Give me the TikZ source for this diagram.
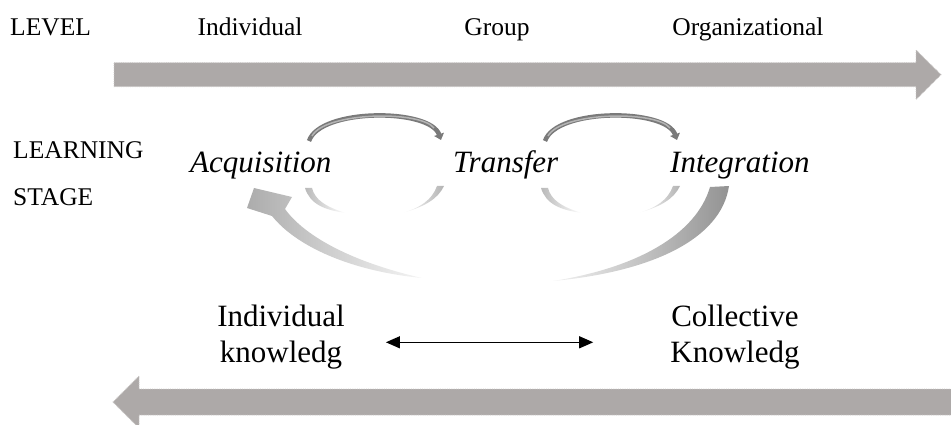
\documentclass[tikz,border=0pt]{standalone}
\usepackage{fontspec}
\setmainfont{Liberation Serif}
\usetikzlibrary{arrows.meta}
\definecolor{bandgray}{HTML}{ADA9A8}
\definecolor{banddot}{HTML}{C9C6C5}
\definecolor{arcdark}{HTML}{7A7A7A}
\definecolor{arclight}{HTML}{B4B4B4}
\begin{document}
\begin{tikzpicture}[x=1pt,y=-1pt,
  band/.style={fill=bandgray, draw=banddot, densely dotted, line width=0.8pt},
  lbl/.style={inner sep=0pt, font=\fontsize{25.5}{30}\selectfont},
  stagelbl/.style={inner sep=0pt, font=\fontsize{31}{36}\selectfont\itshape},
  know/.style={inner sep=0pt, align=center, font=\fontsize{31}{36}\selectfont},
  dblarrow/.style={{Triangle[length=14pt,width=12pt]}-{Triangle[length=14pt,width=12pt]}, line width=1.2pt},
  toparc/.style={draw=arcdark, line width=4.5pt, -{Triangle[length=6pt,width=10pt]}},
  toparcin/.style={draw=arclight, line width=1.5pt},
]
\useasboundingbox (0,0) rectangle (951,425);

% level band (left to right) and knowledge band (right to left)
\path[band] (114,62.7) -- (916,62.7) -- (916,50) -- (941,74.7) -- (916,99.5)
  -- (916,86.7) -- (114,86.7) -- cycle;
\path[band] (952,389) -- (139,389) -- (139,376) -- (113,402) -- (139,428)
  -- (139,415) -- (952,415) -- cycle;

% level labels
\node[lbl, anchor=base west] (level) at (10,36) {LEVEL};
\node[lbl, anchor=base] (lvind) at (250,36) {Individual};
\node[lbl, anchor=base] (lvgrp) at (497,36) {Group};
\node[lbl, anchor=base] (lvorg) at (748,36) {Organizational};

\node[lbl, anchor=base west] (learning) at (13,159) {LEARNING};
\node[lbl, anchor=base west] (stage) at (13,206) {STAGE};

% learning stages
\node[stagelbl, anchor=base west] (acq) at (190,172) {Acquisition};
\node[stagelbl, anchor=base west] (trans) at (453,172) {Transfer};
\node[stagelbl, anchor=base west] (integ) at (670,172) {Integration};

% upper arcs between the stages
\draw[toparc] (309,141) .. controls (320,108) and (430,108) .. (441,140);
\draw[toparcin] (312,136) .. controls (325,112) and (420,110) .. (434,128);
\draw[toparc] (545,141) .. controls (556,108) and (666,108) .. (677,140);
\draw[toparcin] (548,136) .. controls (561,112) and (656,110) .. (670,128);

% faint lower arcs
\shade[left color=gray!55, right color=white]
  (305,188) .. controls (310,204) and (324,210) .. (346,213)
  .. controls (326,207) and (315,200) .. (312,188) -- cycle;
\shade[left color=white, right color=gray!60]
  (437,186) .. controls (432,200) and (420,208) .. (402,213)
  .. controls (424,207) and (438,199) .. (444,186) -- cycle;
\shade[left color=gray!55, right color=white]
  (541,188) .. controls (546,204) and (560,210) .. (582,213)
  .. controls (562,207) and (551,200) .. (548,188) -- cycle;
\shade[left color=white, right color=gray!60]
  (673,186) .. controls (668,200) and (656,208) .. (638,213)
  .. controls (660,207) and (674,199) .. (680,186) -- cycle;

% large return sweeps
\shade[left color=gray!65, right color=gray!8]
  (422,278) .. controls (350,271) and (296,246) .. (272,216)
  -- (247,208) -- (254,188) -- (292,197) -- (285,209)
  .. controls (306,238) and (356,263) .. (422,278) -- cycle;
\shade[left color=gray!10, right color=gray!85]
  (729,186) .. controls (721,240) and (650,272) .. (553,281)
  .. controls (636,268) and (696,235) .. (710,187) -- cycle;

% knowledge types
\node[know, anchor=north] (ind) at (281,305) {Individual\\knowledg};
\node[know, anchor=north] (col) at (735,305) {Collective\\Knowledg};
\draw[dblarrow] ([xshift=41pt,yshift=-5pt]ind.east) -- ([xshift=-77pt,yshift=-5pt]col.west);
\end{tikzpicture}
\end{document}
